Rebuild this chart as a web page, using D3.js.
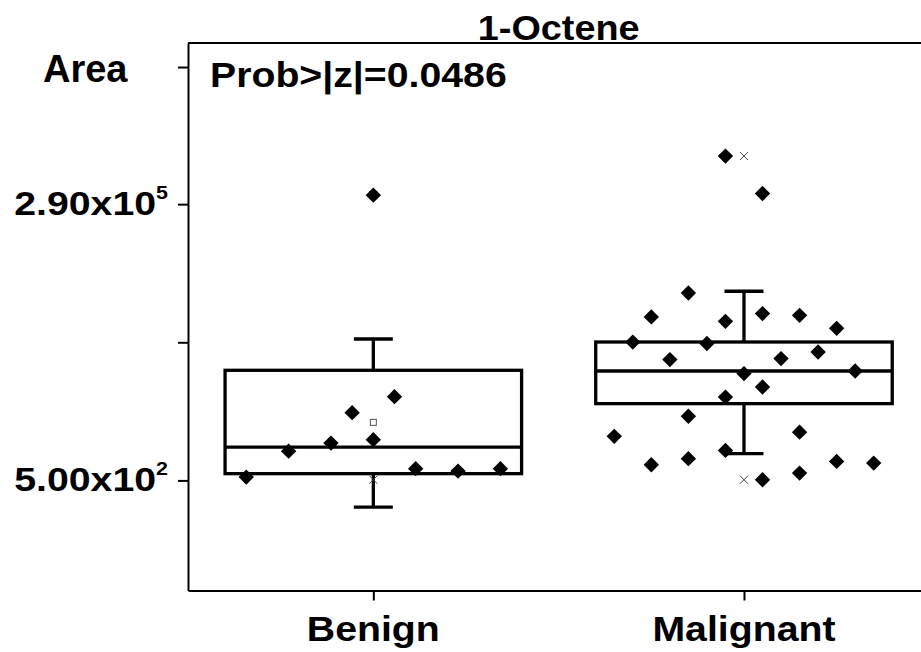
<!DOCTYPE html>
<html>
<head>
<meta charset="utf-8">
<script src="https://cdn.jsdelivr.net/npm/d3@7"></script>
<style>
  html, body { margin: 0; padding: 0; background: #fff; }
  svg { display: block; }
  text { font-family: "Liberation Sans", Arial, Helvetica, sans-serif; font-weight: bold; fill: #000; }
</style>
</head>
<body>
<svg id="chart" width="921" height="652"></svg>
<script>
// ---------------- data ----------------
const title = "1-Octene";
const yAxisTitle = "Area";
const statText = "Prob>|z|=0.0486";
const groups = ["Benign", "Malignant"];

// box statistics per group
const whiskerLow  = [270, 925];
const q1          = [584, 2930];
const median      = [1078, 6215];
const q3          = [6316, 12120];
const whiskerHigh = [12990, 39020];
const means       = [1904, 5852];
const pctLow      = [508, 508];        // x markers (low)
const pctHigh     = [357000, 877000];  // x markers (high)

// raw points with jitter slot
const benignValues = [540, 980, 1181, 2381, 1278, 3444, 655, 620, 655, 357000];
const benignSlots  = [-6, -4, -2, -1, 0, 1, 2, 4, 6, 0];
const malignantValues = [877000, 371000, 37500, 21600, 19500, 23300, 22400, 16600, 12100, 11700,
                         8080, 8270, 9630, 5850, 6215, 4300, 3410, 2190, 1380, 1520,
                         718, 825, 998, 508, 592, 775, 745];
const malignantSlots  = [-1, 1, -3, -5, -1, 1, 3, 5, -6, -2,
                         -4, 2, 4, 0, 6, 1, -1, -3, -7, 3,
                         -5, -3, -1, 1, 3, 5, 7];
const slotsPerHalf = [7, 8];

// axis ticks
const yTickValues = [500, 12040, 290000, 6825000];
const yTickMantissa = ["5.00", "", "2.90", ""];
const yTickExponent = ["2", "", "5", ""];

// ---------------- layout ----------------
const svg = d3.select("#chart");
const plotLeft = 188, plotRight = 929.3, plotTop = 43, plotBottom = 590.5;
const sx = 1.09; // horizontal text stretch

const x = d3.scalePoint().domain(groups).range([plotLeft, plotRight]).padding(0.5);
const y = d3.scaleLog().domain([39.6, 1.187e7]).range([plotBottom, plotTop]);
const step = x.step();
const boxHalf = step * 0.4;
const capHalf = step * 0.0526;

function stretchedText(g, tx, ty, anchor, size, str, k) {
  return g.append("text")
    .attr("transform", `translate(${tx},${ty}) scale(${k || sx},1)`)
    .attr("text-anchor", anchor)
    .style("font-size", size + "px")
    .text(str);
}

// frame line at top
svg.append("line")
  .attr("x1", plotLeft).attr("x2", plotRight).attr("y1", plotTop).attr("y2", plotTop)
  .attr("stroke", "#000").attr("stroke-width", 2);

// y axis
const yAxis = svg.append("g")
  .attr("transform", `translate(${plotLeft},0)`)
  .call(d3.axisLeft(y).tickValues(yTickValues).tickSize(10).tickSizeOuter(0).tickFormat(""));
yAxis.select(".domain").attr("stroke", "#000").attr("stroke-width", 2);
yAxis.selectAll(".tick line").attr("stroke", "#000").attr("stroke-width", 2);

// y tick labels with superscript
yTickValues.forEach((v, i) => {
  if (!yTickMantissa[i]) return;
  const t = svg.append("text")
    .attr("transform", `translate(168,${y(v) + 11}) scale(1.19,1)`)
    .attr("text-anchor", "end")
    .style("font-size", "33px");
  t.append("tspan").text(yTickMantissa[i] + "x10");
  t.append("tspan").attr("dy", -16).style("font-size", "18px").text(yTickExponent[i]);
});

// x axis
const xAxis = svg.append("g")
  .attr("transform", `translate(0,${plotBottom})`)
  .call(d3.axisBottom(x).tickSize(10).tickSizeOuter(0).tickFormat(""));
xAxis.select(".domain").attr("stroke", "#000").attr("stroke-width", 2);
xAxis.selectAll(".tick line").attr("stroke", "#000").attr("stroke-width", 2);
groups.forEach(gname => {
  stretchedText(svg, x(gname), 641, "middle", 36, gname);
});

// titles
stretchedText(svg, (plotLeft + plotRight) / 2, 40, "middle", 35, title, 1.08);
stretchedText(svg, 210, 87, "start", 36, statText);
stretchedText(svg, 43, 81.7, "start", 38, yAxisTitle, 1.0);

// boxes
const boxG = svg.append("g").attr("fill", "none").attr("stroke", "#000").attr("stroke-width", 3.3);
groups.forEach((gname, i) => {
  const cx = x(gname);
  boxG.append("line").attr("x1", cx).attr("x2", cx).attr("y1", y(q3[i])).attr("y2", y(whiskerHigh[i]));
  boxG.append("line").attr("x1", cx).attr("x2", cx).attr("y1", y(q1[i])).attr("y2", y(whiskerLow[i]));
  boxG.append("line").attr("x1", cx - capHalf).attr("x2", cx + capHalf).attr("y1", y(whiskerHigh[i])).attr("y2", y(whiskerHigh[i]));
  boxG.append("line").attr("x1", cx - capHalf).attr("x2", cx + capHalf).attr("y1", y(whiskerLow[i])).attr("y2", y(whiskerLow[i]));
  boxG.append("rect")
    .attr("x", cx - boxHalf).attr("width", boxHalf * 2)
    .attr("y", y(q3[i])).attr("height", y(q1[i]) - y(q3[i]));
  boxG.append("line").attr("x1", cx - boxHalf).attr("x2", cx + boxHalf)
    .attr("y1", y(median[i])).attr("y2", y(median[i]));
});

// x markers and mean squares
const timesSymbol = {
  draw(ctx, size) {
    const r = Math.sqrt(size) / 2;
    ctx.moveTo(-r, -r); ctx.lineTo(r, r);
    ctx.moveTo(r, -r); ctx.lineTo(-r, r);
  }
};
const markG = svg.append("g");
groups.forEach((gname, i) => {
  const cx = x(gname);
  [pctLow[i], pctHigh[i]].forEach(v => {
    markG.append("path")
      .attr("d", d3.symbol(timesSymbol, 64)())
      .attr("transform", `translate(${cx},${y(v)})`)
      .attr("fill", "none").attr("stroke", "#444").attr("stroke-width", 1);
  });
  markG.append("rect")
    .attr("x", cx - 3).attr("y", y(means[i]) - 3).attr("width", 6).attr("height", 6)
    .attr("fill", "#fff").attr("stroke", "#555").attr("stroke-width", 1);
});

// points (diamonds)
const pts = [];
benignValues.forEach((v, k) => pts.push({ g: 0, v, s: benignSlots[k] }));
malignantValues.forEach((v, k) => pts.push({ g: 1, v, s: malignantSlots[k] }));
const diamond = d3.symbol(d3.symbolSquare, 118)();
svg.append("g").selectAll("path").data(pts).join("path")
  .attr("d", diamond)
  .attr("transform", d => `translate(${x(groups[d.g]) + d.s * boxHalf / slotsPerHalf[d.g]},${y(d.v)}) rotate(45)`)
  .attr("fill", "#000");
</script>
</body>
</html>
